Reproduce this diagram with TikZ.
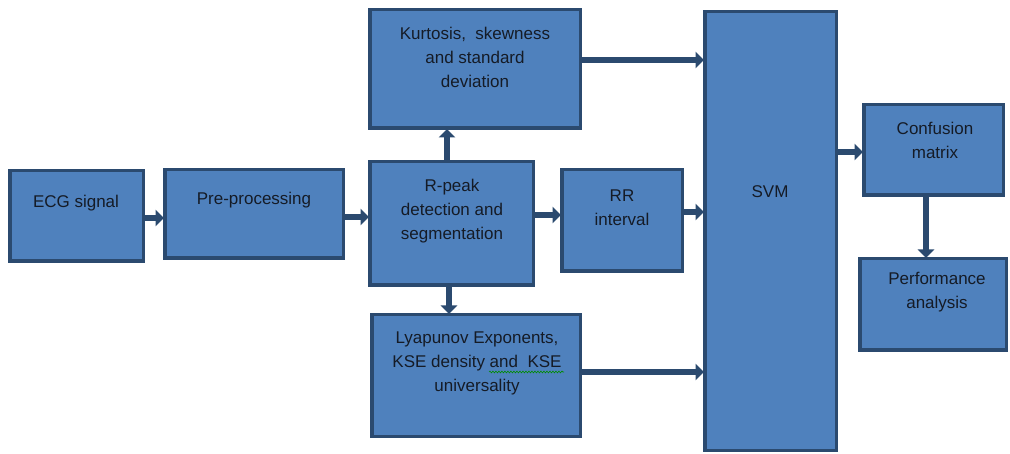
\documentclass[tikz,border=0pt]{standalone}
\usepackage{fontspec}
\setmainfont{Liberation Sans}
\usetikzlibrary{arrows.meta,decorations.pathmorphing}
\definecolor{boxfill}{HTML}{4F81BD}
\definecolor{boxline}{HTML}{2B4A6F}
\definecolor{txtcol}{HTML}{151B26}
\begin{document}
\begin{tikzpicture}[x=1pt,y=-1pt,
  box/.style={draw=boxline,fill=boxfill,line width=3.5pt,rectangle,inner sep=0pt},
  txt/.style={text=txtcol,align=center,font=\fontsize{17}{24}\selectfont,inner sep=0pt},
  arr/.style={draw=boxline,line width=6.5pt,-{Triangle[width=16pt,length=8.5pt]},shorten >=-1pt}
]
\useasboundingbox (0,0) rectangle (1010,454);
% boxes
\node[box,minimum width=133.5pt,minimum height=90.5pt] (ecg) at (76.5,216) {};
\node[box,minimum width=178.5pt,minimum height=88.5pt] (pre) at (254,214) {};
\node[box,minimum width=163.5pt,minimum height=123.5pt] (rpk) at (451.5,223.5) {};
\node[box,minimum width=210.5pt,minimum height=118.5pt] (kur) at (475,69) {};
\node[box,minimum width=120.5pt,minimum height=101.5pt] (rr) at (622,220.5) {};
\node[box,minimum width=208.5pt,minimum height=121.5pt] (lya) at (476,375.5) {};
\node[box,minimum width=131.5pt,minimum height=438.5pt] (svm) at (770.5,231) {};
\node[box,minimum width=139.5pt,minimum height=90.5pt] (conf) at (933.5,150) {};
\node[box,minimum width=146.5pt,minimum height=91.5pt] (perf) at (933,304.5) {};
% texts
\node[txt] (tecg) at (76,203) {ECG signal};
\node[txt] (tpre) at (254,200) {Pre-processing};
\node[txt] (trpk) at (452,211) {R-peak\\detection and\\segmentation};
\node[txt] (tkur) at (475,57) {Kurtosis,\ \ skewness\\and standard\\deviation};
\node[txt] (trr) at (622,208) {RR\\interval};
\node[txt] (tlya) at (477,363) {Lyapunov Exponents,\\KSE density and\ \ KSE\\universality};
\node[txt] (tsvm) at (770,192) {SVM};
\node[txt] (tconf) at (935,140) {Confusion\\matrix};
\node[txt] (tperf) at (937,292) {Performance\\analysis};
% spell-check squiggle
\draw[green!55!black,line width=0.6pt,decorate,decoration={snake,amplitude=0.9pt,segment length=3pt}] (489,372) -- (564,372);
% arrows
\draw[arr] (ecg.east |- 0,218) -- (pre.west |- 0,218);
\draw[arr] (pre.east |- 0,217) -- (rpk.west |- 0,217);
\draw[arr] (rpk.east |- 0,215) -- (rr.west |- 0,215);
\draw[arr] (rr.east |- 0,212) -- (svm.west |- 0,212);
\draw[arr] (rpk.north -| 447,0) -- (kur.south -| 447,0);
\draw[arr] (rpk.south -| 449,0) -- (lya.north -| 449,0);
\draw[arr] (kur.east |- 0,60) -- (svm.west |- 0,60);
\draw[arr] (lya.east |- 0,372) -- (svm.west |- 0,372);
\draw[arr] (svm.east |- 0,152) -- (conf.west |- 0,152);
\draw[arr] (conf.south -| 926,0) -- (perf.north -| 926,0);
\end{tikzpicture}
\end{document}
